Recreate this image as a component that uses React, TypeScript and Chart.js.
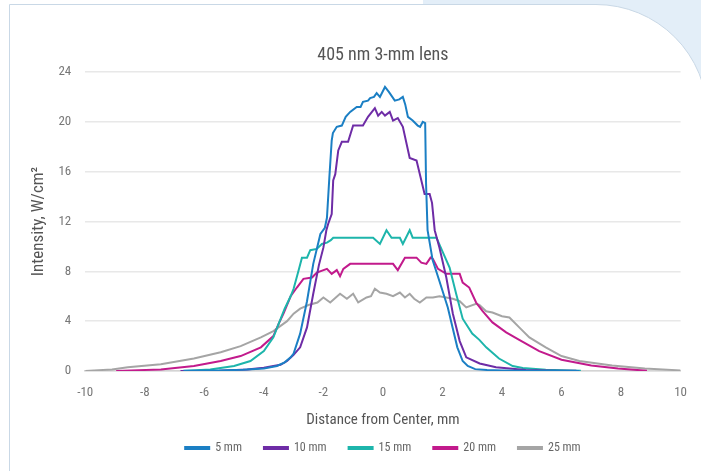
import React, { useEffect, useRef } from "react";
import { Chart, registerables } from "chart.js";

Chart.register(...registerables);

const chartTitle = "405 nm 3-mm lens";
const xAxisTitle = "Distance from Center, mm";
const yAxisTitle = "Intensity, W/cm²";

const seriesLabels = ["5 mm", "10 mm", "15 mm", "20 mm", "25 mm"];
const seriesColors = ["#1b7fc4", "#6e2ca6", "#1db5ab", "#c21a8c", "#a5a5a5"];

// [distance mm, intensity W/cm²]
const profile5mm: number[][] = [
  [-6.7, 0.03], [-5.5, 0.05], [-4.7, 0.1], [-4.0, 0.2], [-3.56, 0.4], [-3.3, 0.7],
  [-3.1, 1.1], [-3.0, 1.4], [-2.78, 3.0], [-2.55, 5.6], [-2.34, 8.6], [-2.1, 11.0],
  [-1.95, 11.5], [-1.88, 12.3], [-1.8, 15.5], [-1.72, 18.5], [-1.68, 19.1], [-1.55, 19.6],
  [-1.38, 19.7], [-1.25, 20.4], [-1.1, 20.8], [-0.88, 21.2], [-0.75, 21.2], [-0.67, 21.6],
  [-0.5, 21.7], [-0.43, 21.9], [-0.3, 22.0], [-0.21, 22.3], [-0.1, 22.0], [0.07, 22.8],
  [0.2, 22.4], [0.4, 21.7], [0.55, 21.8], [0.67, 22.0], [0.75, 21.4], [0.84, 20.4],
  [1.0, 20.1], [1.17, 19.7], [1.25, 19.6], [1.34, 20.0], [1.42, 19.9], [1.45, 15.0],
  [1.5, 11.3], [1.67, 8.9], [1.9, 7.2], [2.18, 5.1], [2.34, 3.5], [2.5, 1.9],
  [2.68, 0.8], [2.85, 0.4], [3.1, 0.15], [3.5, 0.08], [4.0, 0.05], [4.8, 0.03],
  [5.6, 0.02], [6.6, 0.01],
];

const profile10mm: number[][] = [
  [-6.8, 0.0], [-5.5, 0.03], [-4.56, 0.13], [-4.0, 0.27], [-3.68, 0.4], [-3.44, 0.5],
  [-3.22, 0.8], [-3.0, 1.3], [-2.78, 1.9], [-2.55, 3.5], [-2.34, 6.2], [-2.15, 8.5],
  [-2.0, 9.9], [-1.9, 11.3], [-1.84, 11.8], [-1.72, 12.6], [-1.67, 15.3], [-1.6, 15.8],
  [-1.5, 17.7], [-1.38, 18.4], [-1.17, 18.4], [-1.0, 19.7], [-0.67, 19.7], [-0.5, 20.4],
  [-0.27, 21.1], [-0.16, 20.5], [-0.04, 20.8], [0.07, 20.5], [0.23, 20.8], [0.34, 20.1],
  [0.5, 20.3], [0.67, 19.6], [0.9, 17.1], [1.13, 16.9], [1.4, 14.2], [1.57, 14.2],
  [1.65, 13.5], [1.74, 11.3], [1.9, 9.9], [2.13, 7.5], [2.35, 4.6], [2.58, 2.4],
  [2.8, 1.1], [3.25, 0.6], [3.8, 0.3], [4.8, 0.08], [5.8, 0.03], [6.5, 0.02],
];

const profile15mm: number[][] = [
  [-6.73, 0.0], [-5.8, 0.13], [-5.0, 0.4], [-4.45, 0.8], [-4.0, 1.6], [-3.68, 2.7],
  [-3.5, 3.8], [-3.3, 5.0], [-3.1, 6.0], [-3.0, 6.6], [-2.84, 8.0], [-2.72, 9.1],
  [-2.55, 9.1], [-2.44, 9.7], [-2.22, 9.8], [-2.05, 10.2], [-1.88, 10.3], [-1.75, 10.5],
  [-1.67, 10.7], [-0.33, 10.7], [-0.1, 10.2], [0.12, 11.3], [0.29, 10.7], [0.57, 10.7],
  [0.67, 10.2], [0.9, 11.3], [1.0, 10.7], [1.8, 10.7], [2.0, 9.6], [2.24, 8.3],
  [2.46, 6.2], [2.68, 4.2], [3.0, 3.0], [3.24, 2.5], [3.47, 1.9], [3.9, 1.0],
  [4.36, 0.4], [4.7, 0.25], [5.47, 0.1], [6.65, 0.02],
];

const profile20mm: number[][] = [
  [-8.96, 0.0], [-7.46, 0.13], [-6.35, 0.4], [-5.45, 0.8], [-4.78, 1.2], [-4.1, 1.9],
  [-3.68, 2.8], [-3.5, 3.8], [-3.34, 4.6], [-3.1, 6.0], [-2.89, 6.7], [-2.67, 7.4],
  [-2.38, 7.5], [-2.22, 7.9], [-1.88, 8.2], [-1.72, 7.8], [-1.55, 8.1], [-1.44, 7.6],
  [-1.33, 8.2], [-1.1, 8.6], [0.34, 8.6], [0.5, 8.1], [0.74, 9.1], [1.13, 9.1],
  [1.29, 8.7], [1.46, 8.6], [1.6, 9.1], [1.68, 9.0], [1.85, 8.2], [2.13, 7.8],
  [2.58, 7.8], [2.68, 7.1], [2.9, 6.7], [3.13, 5.5], [3.35, 4.8], [3.68, 3.9],
  [4.14, 3.1], [4.58, 2.5], [5.25, 1.6], [6.0, 0.9], [7.0, 0.45], [7.9, 0.2],
  [8.87, 0.02],
];

const profile25mm: number[][] = [
  [-10.0, 0.0], [-9.1, 0.13], [-8.57, 0.3], [-7.46, 0.55], [-6.35, 1.0], [-5.45, 1.5],
  [-4.78, 2.0], [-4.1, 2.7], [-3.68, 3.2], [-3.22, 4.0], [-3.0, 4.6], [-2.78, 5.0],
  [-2.5, 5.3], [-2.2, 5.5], [-2.0, 5.9], [-1.77, 5.5], [-1.44, 6.2], [-1.21, 5.8],
  [-1.0, 6.2], [-0.83, 5.5], [-0.55, 5.9], [-0.4, 6.0], [-0.27, 6.6], [-0.1, 6.3],
  [0.12, 6.2], [0.34, 6.0], [0.57, 6.3], [0.74, 5.9], [0.9, 6.2], [1.05, 5.8],
  [1.24, 5.5], [1.46, 5.9], [1.68, 5.9], [1.9, 6.0], [2.35, 5.8], [2.58, 5.6],
  [2.8, 5.1], [3.13, 5.4], [3.24, 5.3], [3.47, 4.8], [3.68, 4.7], [4.0, 4.4],
  [4.25, 4.3], [4.58, 3.5], [4.92, 2.7], [5.47, 1.9], [6.0, 1.2], [6.6, 0.8],
  [7.7, 0.45], [8.8, 0.2], [10.0, 0.05],
];

const seriesData = [profile5mm, profile10mm, profile15mm, profile20mm, profile25mm];

const xMin = -10;
const xMax = 10;
const xStep = 2;
const yMin = 0;
const yMax = 24;
const yStep = 4;

const FONT = "'Roboto Condensed', 'DejaVu Sans Condensed', Roboto, sans-serif";

export default function App() {
  const canvasRef = useRef<HTMLCanvasElement | null>(null);

  useEffect(() => {
    if (!canvasRef.current) return;
    const chart = new Chart(canvasRef.current, {
      type: "line",
      data: {
        datasets: seriesLabels.map((label, i) => ({
          label,
          data: seriesData[i].map(([x, y]) => ({ x, y })),
          borderColor: seriesColors[i],
          backgroundColor: seriesColors[i],
          borderWidth: 2,
          pointRadius: 0,
          tension: 0,
          fill: false,
        })),
      },
      options: {
        animation: false,
        responsive: false,
        layout: { padding: 0 },
        plugins: {
          title: {
            display: true,
            text: chartTitle,
            fullSize: false,
            color: "#555555",
            font: { family: FONT, size: 18, weight: "normal" },
            padding: { top: 17, bottom: 5.4 },
          },
          legend: {
            position: "bottom",
            fullSize: false,
            labels: {
              boxWidth: 24,
              boxHeight: 2,
              padding: 22,
              color: "#666666",
              font: { family: FONT, size: 12 },
            },
          },
          tooltip: { enabled: false },
        },
        scales: {
          x: {
            type: "linear",
            min: xMin,
            max: xMax,
            ticks: {
              stepSize: xStep,
              padding: 14,
              color: "#777777",
              font: { family: FONT, size: 13 },
              maxRotation: 0,
              autoSkip: false,
            },
            grid: { display: false, drawTicks: false },
            border: { display: true, color: "#d4d4d4", width: 1.5 },
            title: {
              display: true,
              text: xAxisTitle,
              color: "#555555",
              font: { family: FONT, size: 15 },
              padding: { top: -3, bottom: -9.6 },
            },
          },
          y: {
            min: yMin,
            max: yMax,
            ticks: {
              stepSize: yStep,
              padding: 14,
              color: "#777777",
              font: { family: FONT, size: 13 },
            },
            grid: { color: "#e8e8e8", lineWidth: 1.5, drawTicks: false },
            border: { display: false },
            title: {
              display: true,
              text: yAxisTitle,
              color: "#555555",
              font: { family: FONT, size: 17 },
              padding: { top: 4, bottom: -5 },
            },
          },
        },
      },
    });
    return () => chart.destroy();
  }, []);

  return (
    <div
      style={{
        position: "fixed",
        left: 0,
        top: 0,
        width: 701,
        height: 471,
        overflow: "hidden",
        background: "#ffffff",
      }}
    >
      <div
        style={{
          position: "absolute",
          left: 423,
          top: 0,
          width: 278,
          height: 140,
          background: "#e3eef8",
        }}
      />
      <div
        style={{
          position: "absolute",
          left: 9,
          top: 4,
          width: 699,
          height: 520,
          boxSizing: "border-box",
          border: "1px solid #c9d8e6",
          borderTopRightRadius: 112,
          background: "#ffffff",
        }}
      />
      <canvas
        ref={canvasRef}
        width={676}
        height={436}
        style={{ position: "absolute", left: 25, top: 28, width: 676, height: 436 }}
      />
    </div>
  );
}
